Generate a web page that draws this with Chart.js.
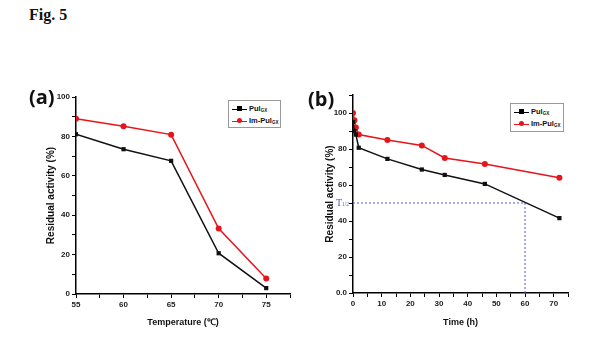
<!DOCTYPE html>
<html>
<head>
<meta charset="utf-8">
<script src="https://cdn.jsdelivr.net/npm/chart.js@4.4.1/dist/chart.umd.min.js"></script>
<style>
  body { margin: 0; background: #fff; width: 600px; height: 350px; position: relative; overflow: hidden; font-family: "Liberation Sans", Arial, sans-serif; }
  canvas { position: absolute; top: 0; }
  #chartA { left: 0; }
  #chartB { left: 300px; }
  .fig { position: absolute; left: 29px; top: 6px; font: bold 16px "Liberation Serif", serif; color: #111; }
  .panel { position: absolute; font: bold 20px "Open Sans", "Liberation Sans", sans-serif; color: #111; line-height: 20px; }
  .legend { position: absolute; border: 1px solid #999; background: #fff; font: bold 7.5px "Liberation Sans", Arial, sans-serif; color: #111; box-sizing: border-box; padding: 2px 3px; }
  .legend .row { height: 12px; line-height: 12px; white-space: nowrap; }
  .legend sub { font-size: 4.5px; vertical-align: -1px; }
  .sym { display: inline-block; position: relative; width: 15px; height: 0; border-top: 1.5px solid #000; vertical-align: middle; margin-right: 2px; }
  .sym::after { content: ""; position: absolute; left: 5px; top: -3.5px; width: 5px; height: 5px; background: #000; }
  .sym.r { border-color: #e8141b; }
  .sym.r::after { background: #e8141b; border-radius: 50%; }
</style>
</head>
<body>
<div class="fig">Fig. 5</div>
<canvas id="chartA" width="300" height="350"></canvas>
<canvas id="chartB" width="300" height="350"></canvas>
<div class="panel" style="left:29px;top:87px">(a)</div>
<div class="panel" style="left:308px;top:89px">(b)</div>
<div class="legend" style="left:228px;top:100px;width:53px;height:28px">
  <div class="row"><span class="sym"></span>Pul<sub>GX</sub></div>
  <div class="row"><span class="sym r"></span>Im-Pul<sub>GX</sub></div>
</div>
<div class="legend" style="left:510px;top:103px;width:54px;height:29px">
  <div class="row"><span class="sym"></span>Pul<sub>GX</sub></div>
  <div class="row"><span class="sym r"></span>Im-Pul<sub>GX</sub></div>
</div>
<script>
// (a) temperature stability
const temps = [55, 60, 65, 70, 75];
const pulTemp = [81.1, 73.5, 67.6, 20.7, 3.0];
const imPulTemp = [89.0, 85.2, 80.9, 33.2, 7.9];

// (b) time course at fixed temperature
const hours = [0, 0.5, 1, 2, 12, 24, 32, 46, 72];
const pulTime = [95, 90, 88, 80.7, 74.5, 68.6, 65.6, 60.6, 41.6];
const imPulTime = [100, 96, 92, 88, 85, 82, 75, 71.7, 64];

// half-life guide line
const halfX = [0, 60, 60];
const halfY = [50, 50, 0];

const BLACK = '#111';
const RED = '#e8141b';
const BLUE = '#4a5ad8';
const tickFont = { family: '"Liberation Sans", Arial, sans-serif', size: 8, weight: 'bold' };
const titleFont = { family: '"Liberation Sans", Arial, sans-serif', size: 10, weight: 'bold' };

const pts = (xs, ys) => xs.map((x, i) => ({ x: x, y: ys[i] }));

function series(label, xs, ys, color, shape) {
    return {
        label: label,
        data: pts(xs, ys),
        borderColor: color,
        backgroundColor: color,
        borderWidth: 1.5,
        pointStyle: shape,
        pointRadius: 3,
        pointBorderWidth: 0,
        tension: 0,
        order: 1
    };
}

function axis(opts) {
    return {
        type: 'linear',
        min: opts.min,
        max: opts.max,
        border: { display: true, color: '#000', width: 1.5 },
        grid: { display: true, drawOnChartArea: false, drawTicks: true, tickLength: 4, tickColor: '#000', tickWidth: 1 },
        ticks: {
            stepSize: opts.step,
            autoSkip: false,
            maxRotation: 0,
            padding: 2,
            color: '#222',
            font: tickFont,
            callback: opts.label
        },
        title: { display: true, text: opts.title, color: '#111', font: opts.titleFont || titleFont, padding: opts.titlePad },
        afterFit: opts.fit
    };
}

const baseOptions = (pad, scales) => ({
    responsive: false,
    animation: false,
    layout: { padding: pad },
    plugins: { legend: { display: false }, tooltip: { enabled: false } },
    scales: scales
});

new Chart(document.getElementById('chartA'), {
    type: 'line',
    data: {
        datasets: [
            series('Pul', temps, pulTemp, BLACK, 'rect'),
            series('Im-Pul', temps, imPulTemp, RED, 'circle')
        ]
    },
    options: baseOptions({ left: 0, right: 10, top: 97, bottom: 16 }, {
        x: axis({
            min: 55, max: 77.5, step: 2.5,
            label: v => v % 5 === 0 ? v : '',
            title: 'Temperature (\u2103)',
            titleFont: { family: '"Liberation Sans", Arial, sans-serif', size: 9, weight: 'bold' },
            titlePad: { top: 0, bottom: 6 },
            fit: s => { s.height = 40; }
        }),
        y: axis({
            min: 0, max: 100, step: 10,
            label: v => v % 20 === 0 ? v : '',
            title: 'Residual activity (%)',
            titlePad: { top: 45, bottom: 0 },
            fit: s => { s.width = 76; }
        })
    })
});

const halfLabel = {
    id: 'halfLabel',
    afterDraw(chart) {
        const y = chart.scales.y.getPixelForValue(halfY[0]);
        const ctx = chart.ctx;
        ctx.save();
        ctx.fillStyle = BLUE;
        ctx.textBaseline = 'middle';
        ctx.font = '10px "Liberation Serif", serif';
        ctx.fillText('T', 36, y);
        ctx.font = '5.5px "Liberation Serif", serif';
        ctx.fillText('1/2', 42, y + 2);
        ctx.restore();
    }
};

new Chart(document.getElementById('chartB'), {
    type: 'line',
    data: {
        datasets: [
            series('Pul', hours, pulTime, BLACK, 'rect'),
            series('Im-Pul', hours, imPulTime, RED, 'circle'),
            {
                label: 'T1/2',
                data: pts(halfX, halfY),
                borderColor: BLUE,
                borderWidth: 1,
                borderDash: [2, 2],
                pointRadius: 0,
                order: 3
            }
        ]
    },
    options: baseOptions({ left: 0, right: 32, top: 95, bottom: 17 }, {
        x: axis({
            min: 0, max: 75, step: 5,
            label: v => v % 10 === 0 ? v : '',
            title: 'Time (h)',
            titleFont: { family: '"Liberation Sans", Arial, sans-serif', size: 9, weight: 'bold' },
            titlePad: { top: 0, bottom: 5 },
            fit: s => { s.height = 40; }
        }),
        y: axis({
            min: 0, max: 110, step: 10,
            label: v => v === 0 ? '0.0' : (v % 20 === 0 && v <= 100 ? v : ''),
            title: 'Residual activity (%)',
            titlePad: { top: 24, bottom: 0 },
            fit: s => { s.width = 53; }
        })
    }),
    plugins: [halfLabel]
});
</script>
</body>
</html>
